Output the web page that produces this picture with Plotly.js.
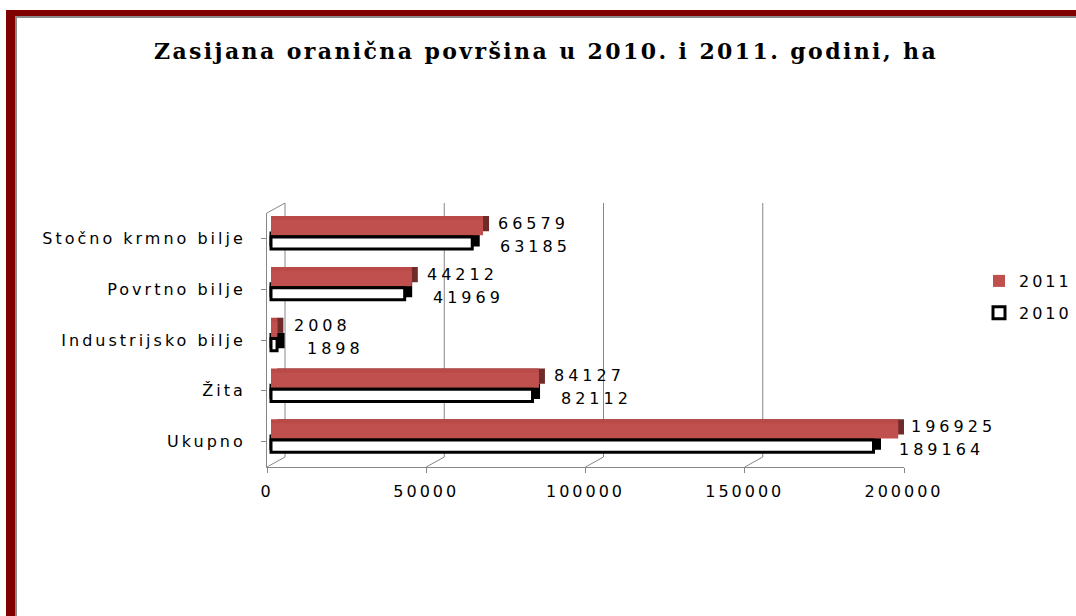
<!DOCTYPE html>
<html>
<head>
<meta charset="utf-8">
<script src="https://cdn.plot.ly/plotly-3.0.1.min.js"></script>
<style>
  html, body { margin: 0; padding: 0; background: #ffffff; }
  #wrap { position: relative; width: 1076px; height: 616px; overflow: hidden; background: #fff; }
  #frame { position: absolute; left: 6px; top: 10px; right: -20px; bottom: -20px;
           border-left: 9px solid #800000; border-top: 6px solid #800000; }
  #frame2 { position: absolute; left: 0; top: 0; right: 0; bottom: 0;
            border-left: 2px solid #8a8a8a; border-top: 2px solid #8a8a8a; }
  #chart { position: absolute; left: 0; top: 0; width: 1076px; height: 616px; }
  #chart .xtick text, #chart .ytick text, #chart .legendtext { letter-spacing: 3px; }
  #chart .annotation-text { letter-spacing: 4px; }
  #chart .gtitle { letter-spacing: 2.4px; }
  #chart .legend .scrollbox { clip-path: none !important; }
</style>
</head>
<body>
<div id="wrap">
  <div id="frame"><div id="frame2"></div></div>
  <div id="chart"></div>
</div>
<script>
// ---- data ----
const categories = ['Ukupno', 'Žita', 'Industrijsko bilje', 'Povrtno bilje', 'Stočno krmno bilje'];
const values2011 = [196925, 84127, 2008, 44212, 66579];
const values2010 = [189164, 82112, 1898, 41969, 63185];
const seriesNames = ['2011', '2010'];
const xTickVals = [0, 50000, 100000, 150000, 200000];
const xTickText = ['0', '50000', '100000', '150000', '200000'];
const titleText = 'Zasijana oranična površina u 2010. i 2011. godini, ha';

// ---- geometry / style ----
const W = 1076, H = 616;
const xMax = 200000;
const frontLeft = 267, frontRight = 904, frontTop = 213, frontBottom = 467;
const pxPerUnit = (frontRight - frontLeft) / xMax;
const bandPx = (frontBottom - frontTop) / categories.length;
const barPlaneShift = 4 / pxPerUnit;      // bars sit slightly behind the front plane
const depthX = 6 / pxPerUnit;             // extrusion to the right
const depthY = 4 / bandPx;                // extrusion upward
const wallDX = 18, wallDY = 10;           // back wall offset in px

const RED = '#C0504D', RED_TOP = '#B94A47', RED_SIDE = '#6E2B29', BLACK = '#000000';
const redOff = 0.06, redW = 0.30;
const whiteOff = -0.21, whiteW = 0.24;
const axisCol = '#878787';
const labelFont = { family: 'DejaVu Sans, Verdana, sans-serif', size: 16, color: '#000' };

const idx = categories.map((_, i) => i);
const baseArr = v => v.map(() => barPlaneShift);
const baseDepth = v => v.map(() => barPlaneShift + depthX);

const common = { type: 'bar', orientation: 'h', y: idx, hoverinfo: 'skip' };

const traces = [
  // extrusion (side / top) layers
  Object.assign({}, common, { x: values2011, base: baseDepth(values2011), offset: redOff + depthY, width: redW,
    marker: { color: RED_SIDE }, showlegend: false }),
  Object.assign({}, common, { x: values2011, base: baseArr(values2011), offset: redOff + depthY, width: redW,
    marker: { color: RED_TOP }, showlegend: false }),
  Object.assign({}, common, { x: values2010, base: baseDepth(values2010), offset: whiteOff + depthY, width: whiteW,
    marker: { color: BLACK, line: { color: BLACK, width: 3 } }, showlegend: false }),
  Object.assign({}, common, { x: values2010, base: baseArr(values2010), offset: whiteOff + depthY, width: whiteW,
    marker: { color: BLACK, line: { color: BLACK, width: 3 } }, showlegend: false }),
  // front faces
  Object.assign({}, common, { name: seriesNames[0], x: values2011, base: baseArr(values2011), offset: redOff, width: redW,
    marker: { color: RED, line: { width: 0 } }, legendgroup: 'a' }),
  Object.assign({}, common, { name: seriesNames[1], x: values2010, base: baseArr(values2010), offset: whiteOff, width: whiteW,
    marker: { color: '#FFFFFF', line: { color: BLACK, width: 3 } }, legendgroup: 'b' })
];

// back wall gridlines, floor diagonals, left wall top edge
const yFront0 = (H - frontBottom) / H, yFront1 = (H - frontTop) / H;
const yBack0 = (H - frontBottom + wallDY) / H, yBack1 = (H - frontTop + wallDY) / H;
const shapes = [];
xTickVals.forEach(v => {
  shapes.push({ type: 'line', layer: 'below', xref: 'x', xsizemode: 'pixel', xanchor: v, x0: wallDX, x1: wallDX,
    yref: 'paper', y0: yBack0, y1: yBack1, line: { color: axisCol, width: 1 } });
  shapes.push({ type: 'line', layer: 'below', xref: 'x', xsizemode: 'pixel', xanchor: v, x0: 0, x1: wallDX,
    yref: 'paper', y0: yFront0, y1: yBack0, line: { color: axisCol, width: 1 } });
});
shapes.push({ type: 'line', layer: 'below', xref: 'x', xsizemode: 'pixel', xanchor: 0, x0: 0, x1: wallDX,
  yref: 'paper', y0: yFront1, y1: yBack1, line: { color: axisCol, width: 1 } });

// value labels
const annotations = [];
values2011.forEach((v, i) => annotations.push({ x: v + barPlaneShift, y: i, xref: 'x', yref: 'y', text: String(v),
  showarrow: false, xanchor: 'left', yanchor: 'middle', xshift: 23, yshift: 15, font: labelFont }));
values2010.forEach((v, i) => annotations.push({ x: v + barPlaneShift, y: i, xref: 'x', yref: 'y', text: String(v),
  showarrow: false, xanchor: 'left', yanchor: 'middle', xshift: 36, yshift: -8, font: labelFont }));

const layout = {
  width: W, height: H,
  margin: { l: 0, r: 0, t: 0, b: 0 },
  paper_bgcolor: 'rgba(0,0,0,0)', plot_bgcolor: 'rgba(0,0,0,0)',
  barmode: 'overlay',
  showlegend: true,
  title: { text: '<b>' + titleText + '</b>', xref: 'paper', x: 546 / W, xanchor: 'center',
           yref: 'container', y: 1 - 51 / H, yanchor: 'middle',
           font: { family: 'DejaVu Serif, serif', size: 22, color: '#000' } },
  xaxis: { domain: [frontLeft / W, frontRight / W], range: [0, xMax], tickvals: xTickVals, ticktext: xTickText,
    showgrid: false, zeroline: false, showline: true, linecolor: axisCol, linewidth: 1,
    ticks: 'outside', ticklen: 5, tickcolor: axisCol, tickfont: labelFont, ticklabelstandoff: 5, fixedrange: true },
  yaxis: { domain: [yFront0, yFront1], range: [-0.5, categories.length - 0.5],
    tickvals: idx, ticktext: categories, tickson: 'boundaries',
    showgrid: false, zeroline: false, showline: true, linecolor: axisCol, linewidth: 1,
    ticks: 'outside', ticklen: 5, tickcolor: axisCol, tickfont: labelFont, ticklabelstandoff: 12, fixedrange: true },
  legend: { x: 979 / W, xanchor: 'left', y: 1 - 264 / H, yanchor: 'top', traceorder: 'grouped', tracegroupgap: 8,
    font: labelFont, bgcolor: 'rgba(0,0,0,0)' },
  shapes: shapes,
  annotations: annotations
};

Plotly.newPlot('chart', traces, layout, { displayModeBar: false, staticPlot: true });
</script>
</body>
</html>
